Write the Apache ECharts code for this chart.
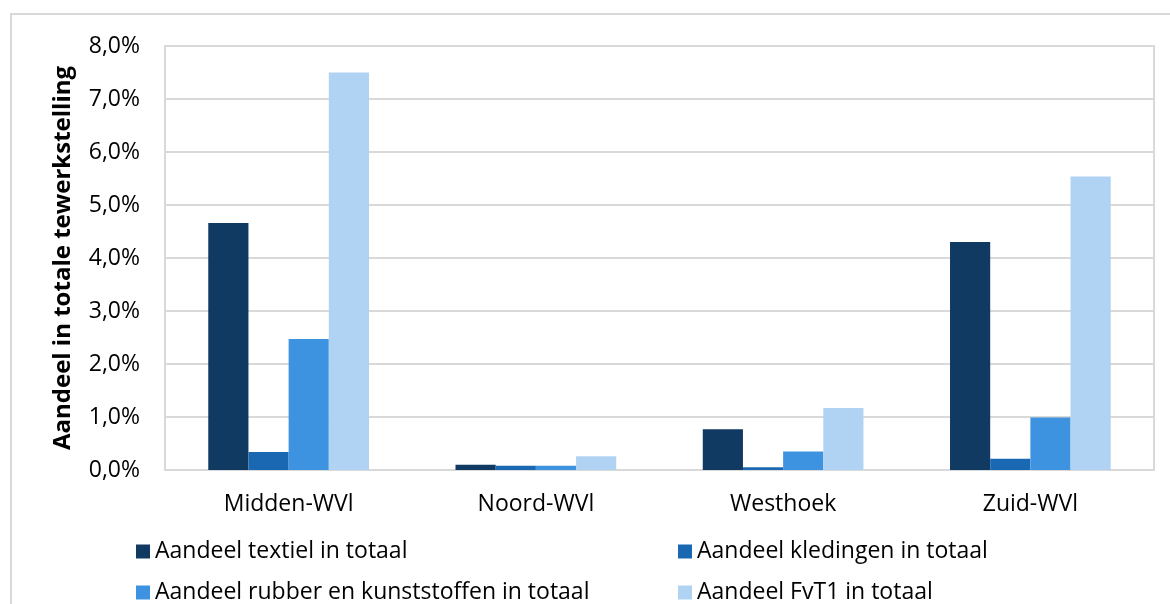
<!DOCTYPE html>
<html>
<head>
<meta charset="utf-8">
<script src="https://cdn.jsdelivr.net/npm/echarts@6/dist/echarts.min.js"></script>
<style>
  html, body { margin: 0; padding: 0; background: #fff; }
  #chart { width: 1170px; height: 604px; }
</style>
</head>
<body>
<div id="chart"></div>
<script>
const regions = ['Midden-WVl', 'Noord-WVl', 'Westhoek', 'Zuid-WVl']
const seriesNames = [
  'Aandeel textiel in totaal',
  'Aandeel kledingen in totaal',
  'Aandeel rubber en kunststoffen in totaal',
  'Aandeel FvT1 in totaal',
]
// percentages
const textiel = [4.66, 0.10, 0.77, 4.30]
const kledingen = [0.34, 0.08, 0.05, 0.21]
const rubber = [2.47, 0.08, 0.35, 0.99]
const fvt1 = [7.50, 0.26, 1.17, 5.54]
const yTicks = { min: 0, max: 8, interval: 1 }

const colors = ['#103a62', '#1b68b2', '#3e93e0', '#b0d3f3']
const font = 'Open Sans'

const chart = echarts.init(document.getElementById('chart'), null, { renderer: 'canvas' })

const values = [textiel, kledingen, rubber, fvt1]

// legend in 2x2 layout, one small legend per item
const legendPos = [
  { left: 131, top: 535 },
  { left: 673, top: 535 },
  { left: 131, top: 576 },
  { left: 673, top: 576 },
]

const option = {
  animation: false,
  backgroundColor: '#fff',
  graphic: [
    {
      type: 'rect',
      shape: { x: 11, y: 14, width: 1200, height: 700 },
      style: { fill: 'none', stroke: '#d9d9d9', lineWidth: 2 },
      silent: true,
    },
  ],
  grid: {
    left: 165,
    right: 16,
    top: 46,
    bottom: 134,
    show: true,
    borderColor: '#d9d9d9',
    borderWidth: 2,
    containLabel: false,
  },
  legend: legendPos.map((p, i) => ({
    data: [seriesNames[i]],
    left: p.left,
    top: p.top,
    icon: 'rect',
    itemWidth: 14,
    itemHeight: 14,
    selectedMode: false,
    textStyle: { fontFamily: font, fontSize: 23, color: '#000' },
  })),
  xAxis: {
    type: 'category',
    data: regions,
    axisTick: { show: false },
    axisLine: { show: false },
    axisLabel: { margin: 23, fontFamily: font, fontSize: 23, color: '#000' },
  },
  yAxis: {
    type: 'value',
    min: yTicks.min,
    max: yTicks.max,
    interval: yTicks.interval,
    name: 'Aandeel in totale tewerkstelling',
    nameLocation: 'middle',
    nameGap: 90,
    nameTextStyle: { fontFamily: font, fontSize: 24, fontWeight: 'bold', color: '#000' },
    axisLine: { show: false },
    axisTick: { show: false },
    splitLine: { lineStyle: { color: '#d9d9d9', width: 2 } },
    axisLabel: {
      margin: 25,
      fontFamily: font,
      fontSize: 23,
      color: '#000',
      formatter: (v) => v.toFixed(1).replace('.', ',') + '%',
    },
  },
  series: seriesNames.map((name, i) => ({
    name,
    type: 'bar',
    data: values[i],
    barGap: '0%',
    barCategoryGap: '35%',
    itemStyle: { color: colors[i] },
  })),
}

chart.setOption(option)
</script>
</body>
</html>
